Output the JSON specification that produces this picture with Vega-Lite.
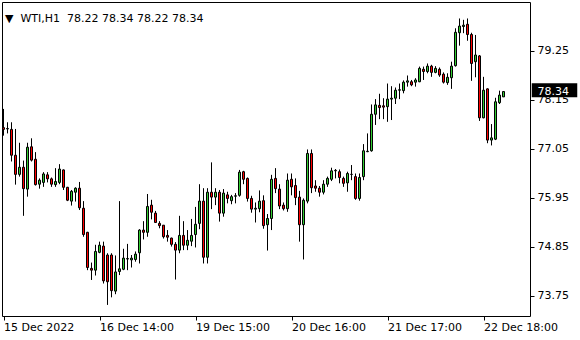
{
  "$schema": "https://vega.github.io/schema/vega-lite/v6.json",
  "width": 528,
  "height": 314,
  "autosize": {"type": "none"},
  "padding": {"left": 2, "top": 2, "right": 50, "bottom": 24},
  "background": "white",
  "title": {
    "text": "▼\u00a0 WTI,H1\u00a0 78.22 78.34 78.22 78.34",
    "anchor": "start",
    "frame": "group",
    "orient": "top",
    "offset": -16,
    "dx": 3,
    "dy": 15,
    "font": "DejaVu Sans",
    "fontSize": 11,
    "fontWeight": "normal",
    "color": "black",
    "baseline": "alphabetic"
  },
  "config": {
    "view": {"stroke": "black", "strokeWidth": 1},
    "axis": {
      "labelFont": "DejaVu Sans",
      "labelFontSize": 11,
      "labelColor": "black",
      "tickColor": "black",
      "domain": false,
      "grid": false,
      "title": null
    }
  },
  "data": {
    "values": [
      {"i":0,"o":77.53,"h":77.95,"l":77.35,"c":77.49},
      {"i":1,"o":77.50,"h":77.65,"l":77.40,"c":77.51},
      {"i":2,"o":77.49,"h":77.65,"l":76.77,"c":76.91},
      {"i":3,"o":76.91,"h":77.50,"l":76.25,"c":76.48},
      {"i":4,"o":76.48,"h":77.19,"l":76.43,"c":76.64},
      {"i":5,"o":76.64,"h":76.79,"l":75.55,"c":76.16},
      {"i":6,"o":76.15,"h":77.19,"l":75.98,"c":77.09},
      {"i":7,"o":77.10,"h":77.29,"l":76.77,"c":76.80},
      {"i":8,"o":76.82,"h":76.98,"l":76.23,"c":76.25},
      {"i":9,"o":76.26,"h":76.39,"l":76.16,"c":76.35},
      {"i":10,"o":76.30,"h":76.53,"l":76.20,"c":76.49},
      {"i":11,"o":76.47,"h":76.53,"l":76.30,"c":76.38},
      {"i":12,"o":76.38,"h":76.41,"l":76.20,"c":76.26},
      {"i":13,"o":76.25,"h":76.62,"l":76.20,"c":76.32},
      {"i":14,"o":76.30,"h":76.71,"l":76.26,"c":76.60},
      {"i":15,"o":76.58,"h":76.59,"l":76.13,"c":76.19},
      {"i":16,"o":76.19,"h":76.20,"l":75.88,"c":75.90},
      {"i":17,"o":75.88,"h":76.13,"l":75.78,"c":76.10},
      {"i":18,"o":76.08,"h":76.19,"l":75.87,"c":76.17},
      {"i":19,"o":76.17,"h":76.31,"l":75.68,"c":75.73},
      {"i":20,"o":75.72,"h":75.88,"l":75.08,"c":75.13},
      {"i":21,"o":75.18,"h":75.19,"l":74.33,"c":74.39},
      {"i":22,"o":74.37,"h":74.50,"l":74.11,"c":74.33},
      {"i":23,"o":74.33,"h":74.90,"l":74.21,"c":74.75},
      {"i":24,"o":74.73,"h":74.97,"l":74.71,"c":74.89},
      {"i":25,"o":74.87,"h":74.97,"l":74.03,"c":74.09},
      {"i":26,"o":74.67,"h":74.71,"l":73.55,"c":74.07},
      {"i":27,"o":74.67,"h":74.71,"l":73.72,"c":73.87},
      {"i":28,"o":73.86,"h":74.66,"l":73.79,"c":74.29},
      {"i":29,"o":74.30,"h":75.88,"l":74.22,"c":74.36},
      {"i":30,"o":74.35,"h":74.81,"l":74.33,"c":74.60},
      {"i":31,"o":74.58,"h":74.92,"l":74.33,"c":74.59},
      {"i":32,"o":74.56,"h":74.67,"l":74.39,"c":74.60},
      {"i":33,"o":74.57,"h":74.75,"l":74.52,"c":74.69},
      {"i":34,"o":74.72,"h":75.25,"l":74.48,"c":75.23},
      {"i":35,"o":75.23,"h":75.43,"l":75.02,"c":75.18},
      {"i":36,"o":75.18,"h":76.04,"l":75.08,"c":75.76},
      {"i":37,"o":75.79,"h":75.91,"l":75.47,"c":75.63},
      {"i":38,"o":75.61,"h":75.66,"l":75.40,"c":75.40},
      {"i":39,"o":75.38,"h":75.43,"l":75.27,"c":75.33},
      {"i":40,"o":75.34,"h":75.34,"l":75.04,"c":75.08},
      {"i":41,"o":75.11,"h":75.23,"l":74.97,"c":75.07},
      {"i":42,"o":75.05,"h":75.06,"l":74.86,"c":74.91},
      {"i":43,"o":74.91,"h":74.96,"l":74.12,"c":74.78},
      {"i":44,"o":74.78,"h":75.55,"l":74.71,"c":75.11},
      {"i":45,"o":75.11,"h":75.43,"l":74.78,"c":74.89},
      {"i":46,"o":74.89,"h":75.23,"l":74.78,"c":75.00},
      {"i":47,"o":74.98,"h":75.48,"l":74.87,"c":75.11},
      {"i":48,"o":75.13,"h":75.75,"l":74.84,"c":75.36},
      {"i":49,"o":75.38,"h":76.26,"l":75.25,"c":75.88},
      {"i":50,"o":75.88,"h":76.17,"l":74.48,"c":74.62},
      {"i":51,"o":74.62,"h":76.17,"l":74.48,"c":76.08},
      {"i":52,"o":76.08,"h":76.75,"l":75.70,"c":75.97},
      {"i":53,"o":75.97,"h":76.17,"l":75.79,"c":76.08},
      {"i":54,"o":76.08,"h":76.13,"l":75.42,"c":75.61},
      {"i":55,"o":75.61,"h":76.15,"l":75.53,"c":76.06},
      {"i":56,"o":76.02,"h":76.09,"l":75.83,"c":75.94},
      {"i":57,"o":75.89,"h":76.02,"l":75.81,"c":75.98},
      {"i":58,"o":75.99,"h":76.06,"l":75.83,"c":76.00},
      {"i":59,"o":76.01,"h":76.58,"l":75.98,"c":76.53},
      {"i":60,"o":76.54,"h":76.56,"l":76.26,"c":76.37},
      {"i":61,"o":76.39,"h":76.41,"l":75.87,"c":75.94},
      {"i":62,"o":75.94,"h":76.00,"l":75.62,"c":75.70},
      {"i":63,"o":75.70,"h":75.85,"l":75.40,"c":75.72},
      {"i":64,"o":75.71,"h":76.12,"l":75.63,"c":75.88},
      {"i":65,"o":75.89,"h":76.01,"l":75.26,"c":75.33},
      {"i":66,"o":75.35,"h":75.59,"l":74.77,"c":75.49},
      {"i":67,"o":75.49,"h":76.47,"l":75.23,"c":76.37},
      {"i":68,"o":76.39,"h":76.62,"l":76.06,"c":76.16},
      {"i":69,"o":76.15,"h":76.26,"l":75.70,"c":75.77},
      {"i":70,"o":75.79,"h":75.85,"l":75.67,"c":75.71},
      {"i":71,"o":75.71,"h":76.50,"l":75.64,"c":76.35},
      {"i":72,"o":76.37,"h":76.50,"l":76.01,"c":76.20},
      {"i":73,"o":76.23,"h":76.39,"l":75.79,"c":75.96},
      {"i":74,"o":75.97,"h":76.11,"l":74.97,"c":75.35},
      {"i":75,"o":75.35,"h":75.94,"l":74.57,"c":75.90},
      {"i":76,"o":75.88,"h":77.04,"l":75.83,"c":76.95},
      {"i":77,"o":76.95,"h":77.04,"l":76.06,"c":76.18},
      {"i":78,"o":76.22,"h":76.35,"l":76.09,"c":76.17},
      {"i":79,"o":76.17,"h":76.22,"l":75.98,"c":76.08},
      {"i":80,"o":76.08,"h":76.35,"l":76.03,"c":76.26},
      {"i":81,"o":76.26,"h":76.43,"l":76.20,"c":76.39},
      {"i":82,"o":76.37,"h":76.63,"l":76.33,"c":76.56},
      {"i":83,"o":76.56,"h":76.60,"l":76.39,"c":76.57},
      {"i":84,"o":76.54,"h":76.59,"l":76.28,"c":76.41},
      {"i":85,"o":76.39,"h":76.43,"l":76.20,"c":76.28},
      {"i":86,"o":76.29,"h":76.54,"l":76.09,"c":76.50},
      {"i":87,"o":76.48,"h":76.69,"l":76.35,"c":76.48},
      {"i":88,"o":76.43,"h":76.50,"l":75.91,"c":75.94},
      {"i":89,"o":75.94,"h":76.50,"l":75.89,"c":76.41},
      {"i":90,"o":76.43,"h":77.16,"l":76.35,"c":77.01},
      {"i":91,"o":76.99,"h":77.40,"l":76.98,"c":77.00},
      {"i":92,"o":77.01,"h":78.05,"l":76.99,"c":77.83},
      {"i":93,"o":77.83,"h":78.17,"l":77.59,"c":78.04},
      {"i":94,"o":78.03,"h":78.29,"l":77.72,"c":77.98},
      {"i":95,"o":78.02,"h":78.19,"l":77.72,"c":77.99},
      {"i":96,"o":78.00,"h":78.52,"l":77.66,"c":78.17},
      {"i":97,"o":78.17,"h":78.46,"l":77.70,"c":78.19},
      {"i":98,"o":78.19,"h":78.43,"l":78.06,"c":78.37},
      {"i":99,"o":78.37,"h":78.52,"l":78.17,"c":78.38},
      {"i":100,"o":78.36,"h":78.59,"l":78.30,"c":78.55},
      {"i":101,"o":78.55,"h":78.70,"l":78.45,"c":78.58},
      {"i":102,"o":78.56,"h":78.60,"l":78.46,"c":78.49},
      {"i":103,"o":78.55,"h":78.64,"l":78.45,"c":78.60},
      {"i":104,"o":78.56,"h":78.90,"l":78.55,"c":78.86},
      {"i":105,"o":78.84,"h":78.90,"l":78.60,"c":78.79},
      {"i":106,"o":78.79,"h":78.97,"l":78.75,"c":78.91},
      {"i":107,"o":78.91,"h":78.94,"l":78.67,"c":78.77},
      {"i":108,"o":78.77,"h":78.91,"l":78.75,"c":78.86},
      {"i":109,"o":78.84,"h":78.88,"l":78.67,"c":78.71},
      {"i":110,"o":78.73,"h":78.77,"l":78.52,"c":78.55},
      {"i":111,"o":78.54,"h":78.75,"l":78.49,"c":78.66},
      {"i":112,"o":78.65,"h":79.01,"l":78.40,"c":78.91},
      {"i":113,"o":78.92,"h":79.76,"l":78.90,"c":79.67},
      {"i":114,"o":79.66,"h":79.98,"l":79.37,"c":79.81},
      {"i":115,"o":79.80,"h":79.95,"l":79.65,"c":79.83},
      {"i":116,"o":79.85,"h":79.98,"l":79.48,"c":79.62},
      {"i":117,"o":79.62,"h":79.66,"l":78.58,"c":78.97},
      {"i":118,"o":79.01,"h":79.61,"l":78.66,"c":79.16},
      {"i":119,"o":79.14,"h":79.16,"l":77.68,"c":77.75},
      {"i":120,"o":77.75,"h":78.67,"l":77.74,"c":78.37},
      {"i":121,"o":78.40,"h":78.41,"l":77.18,"c":77.25},
      {"i":122,"o":77.25,"h":77.61,"l":77.13,"c":77.30},
      {"i":123,"o":77.27,"h":78.20,"l":77.25,"c":78.11},
      {"i":124,"o":78.09,"h":78.36,"l":78.06,"c":78.26},
      {"i":125,"o":78.22,"h":78.34,"l":78.22,"c":78.34}
    ]
  },
  "encoding": {
    "x": {
      "field": "i",
      "type": "quantitative",
      "scale": {"domain": [-0.375, 131.625], "nice": false, "zero": false, "padding": 0},
      "axis": {
        "orient": "bottom",
        "values": [0, 24, 48, 72, 96, 120],
        "labelExpr": "['15 Dec 2022','16 Dec 14:00','19 Dec 15:00','20 Dec 16:00','21 Dec 17:00','22 Dec 18:00'][round(datum.value/24)]",
        "labelAlign": "left",
        "labelBaseline": "top",
        "labelPadding": 1,
        "tickSize": 4,
        "labelFlush": false,
        "labelOverlap": false
      }
    },
    "y": {
      "type": "quantitative",
      "scale": {"domain": [73.301, 80.35], "nice": false, "zero": false, "padding": 0},
      "axis": {
        "orient": "right",
        "values": [73.75, 74.85, 75.95, 77.05, 78.15, 79.25],
        "format": ".2f",
        "tickSize": 4,
        "labelPadding": 3,
        "labelFlush": false,
        "labelOverlap": false
      }
    }
  },
  "layer": [
    {
      "mark": {"type": "rule", "color": "black", "strokeWidth": 1},
      "encoding": {
        "y": {"field": "l", "type": "quantitative"},
        "y2": {"field": "h"}
      }
    },
    {
      "mark": {"type": "bar", "size": 2, "stroke": "black", "strokeWidth": 1},
      "encoding": {
        "y": {"field": "o", "type": "quantitative"},
        "y2": {"field": "c"},
        "fill": {
          "condition": {"test": "datum.c >= datum.o", "value": "#32cd32"},
          "value": "#ff0000"
        }
      }
    },
    {
      "transform": [{"filter": "datum.i == 125"}],
      "mark": {
        "type": "point",
        "shape": "M1.13,-0.33H2.95V0.23H1.13Z",
        "size": 2500,
        "filled": true,
        "color": "black",
        "opacity": 1,
        "strokeWidth": 0
      },
      "encoding": {
        "y": {"field": "c", "type": "quantitative"}
      }
    },
    {
      "transform": [{"filter": "datum.i == 125"}],
      "mark": {
        "type": "text",
        "align": "left",
        "baseline": "middle",
        "dx": 34,
        "color": "white",
        "font": "DejaVu Sans",
        "fontSize": 11
      },
      "encoding": {
        "y": {"field": "c", "type": "quantitative"},
        "text": {"field": "c", "type": "quantitative", "format": ".2f"}
      }
    }
  ]
}
